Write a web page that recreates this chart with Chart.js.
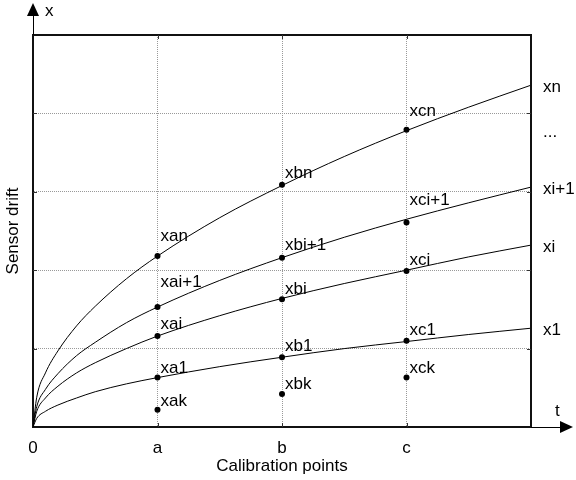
<!DOCTYPE html>
<html>
<head>
<meta charset="utf-8">
<script src="https://cdn.jsdelivr.net/npm/chart.js@4.4.1/dist/chart.umd.min.js"></script>
<style>
	html, body { margin: 0; padding: 0; background: #fff; }
	#wrap { width: 576px; height: 480px; }
</style>
</head>
<body>
<div id="wrap"><canvas id="myChart" width="576" height="480"></canvas></div>
<script>
const tValues = [0, 0.03, 0.1, 0.2, 0.35, 0.5, 0.75, 1, 1.5, 2, 2.5, 3, 3.5, 4];

// drift curves
const driftN = [0, 0.38, 0.69, 0.97, 1.29, 1.54, 1.89, 2.18, 2.67, 3.08, 3.45, 3.78, 4.08, 4.36];
const driftI1 = [0, 0.26, 0.48, 0.68, 0.91, 1.08, 1.33, 1.53, 1.87, 2.16, 2.42, 2.65, 2.86, 3.06];
const driftI = [0, 0.2, 0.37, 0.52, 0.69, 0.82, 1.0, 1.16, 1.42, 1.64, 1.83, 2.0, 2.17, 2.32];
const drift1 = [0, 0.11, 0.2, 0.28, 0.37, 0.45, 0.55, 0.63, 0.77, 0.89, 1.0, 1.09, 1.18, 1.26];

// calibration points a, b, c
const calibT = [1, 2, 3];
const calibN = [2.18, 3.09, 3.79];
const calibI1 = [1.53, 2.16, 2.61];
const calibI = [1.16, 1.63, 1.99];
const calib1 = [0.63, 0.89, 1.1];
const calibK = [0.22, 0.42, 0.63];

const namesN = ["xan", "xbn", "xcn"];
const namesI1 = ["xai+1", "xbi+1", "xci+1"];
const namesI = ["xai", "xbi", "xci"];
const names1 = ["xa1", "xb1", "xc1"];
const namesK = ["xak", "xbk", "xck"];

const tickLabels = ["0", "a", "b", "c", ""];
const curveNames = ["xn", "...", "xi+1", "xi", "x1"];
const curveNameValues = [4.36, 3.78, 3.06, 2.32, 1.26];

const FONT = "Liberation Sans, Arial, sans-serif";
const SIZE = 17;

const toPoints = (xs, ys) => xs.map((x, i) => ({ x: x, y: ys[i] }));

const curve = (ys) => ({
	data: toPoints(tValues, ys),
	showLine: true,
	borderColor: "#000",
	borderWidth: 1,
	pointRadius: 0,
	cubicInterpolationMode: "monotone",
});

const marks = (ys, names, lift) => ({
	data: toPoints(calibT, ys),
	names: names,
	lift: lift, // px from point to label baseline
	showLine: false,
	pointRadius: 3,
	pointBackgroundColor: "#000",
	pointBorderColor: "#000",
	pointBorderWidth: 0,
});

const decorations = {
	id: "decorations",
	afterDatasetsDraw(chart) {
		const ctx = chart.ctx;
		const area = chart.chartArea;
		const xs = chart.scales.x;
		const ys = chart.scales.y;
		ctx.save();

		// frame top + right
		ctx.strokeStyle = "#111";
		ctx.lineWidth = 2;
		ctx.beginPath();
		ctx.moveTo(area.left, area.top);
		ctx.lineTo(area.right, area.top);
		ctx.lineTo(area.right, area.bottom);
		ctx.stroke();

		// little inner ticks on the frame
		ctx.lineWidth = 1;
		ctx.strokeStyle = "#333";
		ctx.beginPath();
		[1, 2, 3].forEach((v) => {
			const px = Math.round(xs.getPixelForValue(v)) + 0.5;
			ctx.moveTo(px, area.top);
			ctx.lineTo(px, area.top + 4);
			ctx.moveTo(px, area.bottom);
			ctx.lineTo(px, area.bottom - 4);
		});
		[1, 2, 3, 4].forEach((v) => {
			const py = Math.round(ys.getPixelForValue(v)) + 0.5;
			ctx.moveTo(area.left, py);
			ctx.lineTo(area.left + 4, py);
			ctx.moveTo(area.right, py);
			ctx.lineTo(area.right - 4, py);
		});
		ctx.stroke();

		// axis arrows
		ctx.strokeStyle = "#000";
		ctx.fillStyle = "#000";
		ctx.beginPath();
		ctx.moveTo(area.left + 0.5, area.top);
		ctx.lineTo(area.left + 0.5, 15);
		ctx.moveTo(area.right, area.bottom + 0.5);
		ctx.lineTo(561, area.bottom + 0.5);
		ctx.stroke();
		ctx.beginPath();
		ctx.moveTo(area.left - 6, 16);
		ctx.lineTo(area.left + 6, 16);
		ctx.lineTo(area.left, 3);
		ctx.closePath();
		ctx.fill();
		ctx.beginPath();
		ctx.moveTo(560, area.bottom - 6);
		ctx.lineTo(560, area.bottom + 6);
		ctx.lineTo(573, area.bottom);
		ctx.closePath();
		ctx.fill();

		ctx.font = SIZE + "px " + FONT;
		ctx.textAlign = "left";
		ctx.textBaseline = "alphabetic";
		ctx.fillText("x", 45, 16);
		ctx.fillText("t", 555, 416);

		// labels next to the calibration points
		chart.data.datasets.forEach((ds, i) => {
			if (!ds.names) return;
			const meta = chart.getDatasetMeta(i);
			meta.data.forEach((pt, j) => {
				ctx.fillText(ds.names[j], pt.x + 3, pt.y - ds.lift[j]);
			});
		});

		// curve names at the right
		ctx.textBaseline = "middle";
		curveNames.forEach((name, i) => {
			ctx.fillText(name, area.right + 12, ys.getPixelForValue(curveNameValues[i]) + 2);
		});
		ctx.restore();
	},
};

const initChart = () => {
	const canvas = document.getElementById("myChart");

	return new Chart(canvas, {
		type: "scatter",
		data: {
			datasets: [
				curve(driftN),
				curve(driftI1),
				curve(driftI),
				curve(drift1),
				marks(calibN, namesN, [15, 7, 14]),
				marks(calibI1, namesI1, [20, 8, 17]),
				marks(calibI, namesI, [7, 5, 6]),
				marks(calib1, names1, [5, 6, 6]),
				marks(calibK, namesK, [4, 5, 5]),
			],
		},
		options: {
			responsive: false,
			animation: false,
			layout: {
				padding: { left: 0, right: 45, top: 35, bottom: 0 },
			},
			plugins: {
				legend: { display: false },
				tooltip: { enabled: false },
			},
			scales: {
				x: {
					type: "linear",
					min: 0,
					max: 4,
					afterFit: (s) => {
						s.height = 53;
					},
					ticks: {
						stepSize: 1,
						color: "#000",
						padding: 11,
						font: { family: FONT, size: SIZE },
						callback: (v) => tickLabels[v],
					},
					grid: {
						drawTicks: false,
						color: (c) =>
							c.tick && (c.tick.value === 0 || c.tick.value === 4) ? "rgba(0,0,0,0)" : "#999",
					},
					border: { color: "#111", width: 2, dash: [1, 1] },
					title: {
						display: true,
						text: "Calibration points",
						color: "#000",
						font: { family: FONT, size: SIZE },
						padding: { top: 0, bottom: 3 },
					},
				},
				y: {
					type: "linear",
					min: 0,
					max: 5,
					afterFit: (s) => {
						s.width = 33;
					},
					ticks: { stepSize: 1, display: false },
					grid: {
						drawTicks: false,
						color: (c) =>
							c.tick && (c.tick.value === 0 || c.tick.value === 5) ? "rgba(0,0,0,0)" : "#999",
					},
					border: { color: "#111", width: 2, dash: [1, 1] },
					title: {
						display: true,
						text: "Sensor drift",
						color: "#000",
						font: { family: FONT, size: SIZE },
						padding: { top: 3, bottom: 0 },
					},
				},
			},
		},
		plugins: [decorations],
	});
};

window.onload = () => {
	initChart();
};
</script>
</body>
</html>
